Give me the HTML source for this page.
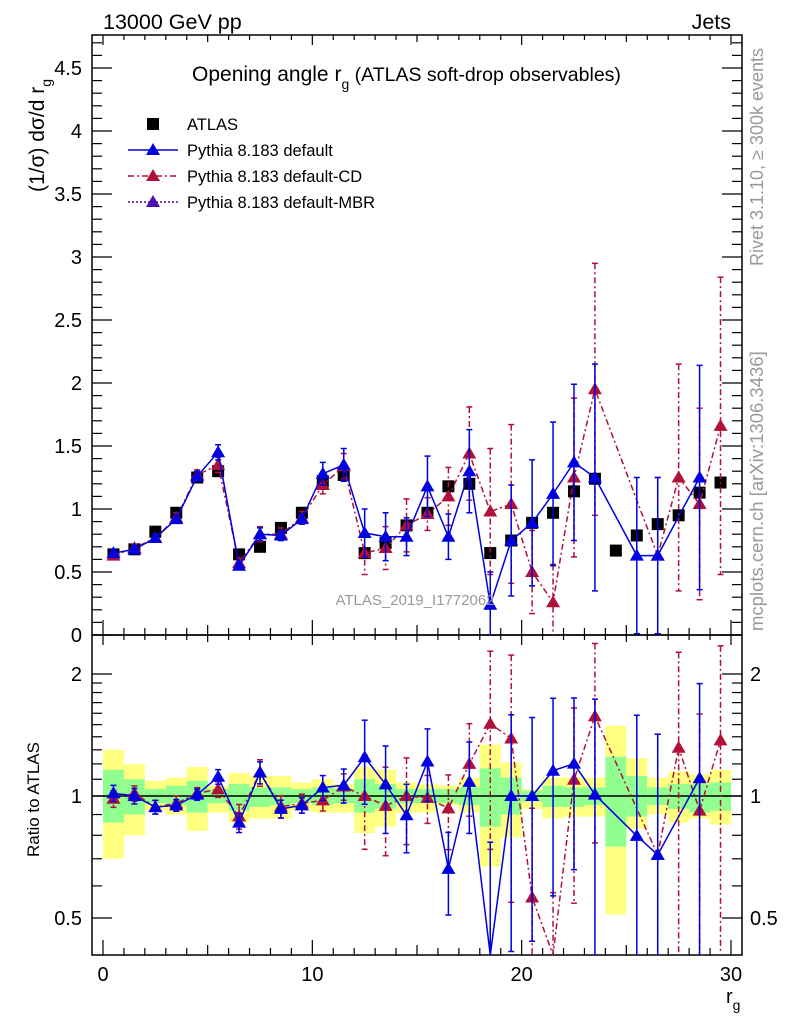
<!DOCTYPE html>
<html><head><meta charset="utf-8"><style>
html,body{margin:0;padding:0;background:#fff;}
svg{display:block;font-family:"Liberation Sans",sans-serif;}
</style></head><body>
<svg id="chart" width="786" height="1024" viewBox="0 0 786 1024">
<g id="bands"></g>
<g id="frame">
<rect x="92" y="35" width="650" height="600" fill="none" stroke="#000" stroke-width="1.5"/>
<rect x="92" y="635" width="650" height="320" fill="none" stroke="#000" stroke-width="1.5"/>
</g>
<g id="ticks"></g>
<g id="series"></g>
<text x="103" y="29" font-size="21.5">13000 GeV pp</text>
<text x="731" y="29" font-size="21.5" text-anchor="end">Jets</text>
<text transform="translate(44,192) rotate(-90)" font-size="21">(1/σ) dσ/d r<tspan font-size="14" dy="7">g</tspan></text>
<text transform="translate(39,857) rotate(-90)" font-size="17">Ratio to ATLAS</text>
<text x="192" y="81" font-size="21">Opening angle r<tspan font-size="14" dy="8">g</tspan><tspan dy="-8" font-size="19.5"> (ATLAS soft-drop observables)</tspan></text>
<text x="415" y="605" font-size="15" fill="#999" text-anchor="middle">ATLAS_2019_I1772062</text>
<text transform="translate(763,266) rotate(-90)" font-size="18" fill="#999">Rivet 3.1.10, ≥ 300k events</text>
<text transform="translate(763,631) rotate(-90)" font-size="18.5" fill="#999">mcplots.cern.ch [arXiv:1306.3436]</text>
<text x="726" y="1003" font-size="20">r<tspan font-size="14" dy="7">g</tspan></text>
<g id="legend">
<rect x="147" y="118" width="12" height="12" fill="#000"/>
<text x="187" y="130" font-size="16.5">ATLAS</text>
<line x1="128" y1="150" x2="178" y2="150" stroke="#0000e0" stroke-width="1.5"/>
<polygon points="153,143 160,155 146,155" fill="#0000e0"/>
<text x="187" y="156" font-size="16.5">Pythia 8.183 default</text>
<line x1="128" y1="176" x2="178" y2="176" stroke="#b0103a" stroke-width="1.5" stroke-dasharray="6,3,2,3"/>
<polygon points="153,169 160,181 146,181" fill="#b0103a"/>
<text x="187" y="182" font-size="16.5">Pythia 8.183 default-CD</text>
<line x1="128" y1="202" x2="178" y2="202" stroke="#4a10b0" stroke-width="1.5" stroke-dasharray="2,2"/>
<polygon points="153,195 160,207 146,207" fill="#4a10b0"/>
<text x="187" y="208" font-size="16.5">Pythia 8.183 default-MBR</text>
</g>
</svg>
<script>
const bins = [0.5,1.5,2.5,3.5,4.5,5.5,6.5,7.5,8.5,9.5,10.5,11.5,12.5,13.5,14.5,15.5,16.5,17.5,18.5,19.5,20.5,21.5,22.5,23.5,24.5,25.5,26.5,27.5,28.5,29.5];
const atlasVals = [0.64,0.68,0.82,0.97,1.25,1.30,0.64,0.70,0.85,0.97,1.22,1.27,0.65,0.73,0.87,0.97,1.18,1.20,0.65,0.75,0.89,0.97,1.14,1.24,0.67,0.79,0.88,0.95,1.13,1.21];
const defVals = [0.65,0.68,0.77,0.92,1.26,1.45,0.55,0.80,0.79,0.92,1.28,1.35,0.81,0.78,0.78,1.18,0.78,1.30,0.24,0.75,0.89,1.12,1.37,1.25,null,0.63,0.63,null,1.25,null];
const defErr = [0.03,0.03,0.03,0.03,0.04,0.06,0.03,0.05,0.04,0.04,0.09,0.13,0.19,0.19,0.15,0.24,0.18,0.33,0.26,0.44,0.5,0.57,0.62,0.9,0,0.62,0.62,0,0.89,0];
const cdVals = [0.63,0.69,0.77,0.93,1.27,1.35,0.57,0.80,0.80,0.93,1.19,1.34,0.65,0.69,0.87,0.96,1.10,1.44,0.98,1.04,0.50,0.26,1.25,1.95,null,null,0.63,1.25,1.04,1.66];
const cdErr = [0.03,0.03,0.03,0.04,0.04,0.06,0.04,0.06,0.05,0.05,0.07,0.1,0.17,0.17,0.21,0.13,0.23,0.37,0.5,0.63,0.33,0.3,0.63,1.0,0,0,0.62,0.9,0.76,1.18];
const statUp = [1.16,1.10,1.04,1.06,1.09,1.04,1.07,1.05,1.05,1.04,1.05,1.04,1.10,1.07,1.04,1.04,1.04,1.05,1.17,1.11,1.03,1.06,1.05,1.05,1.25,1.12,1.05,1.07,1.07,1.08];
const statDn = [0.86,0.90,0.96,0.95,0.91,0.96,0.92,0.94,0.95,0.96,0.95,0.96,0.91,0.93,0.96,0.96,0.96,0.95,0.84,0.90,0.97,0.94,0.94,0.95,0.75,0.89,0.95,0.93,0.91,0.92];
const totUp = [1.30,1.20,1.09,1.11,1.18,1.06,1.14,1.12,1.12,1.08,1.10,1.07,1.18,1.16,1.08,1.07,1.06,1.11,1.34,1.21,1.04,1.11,1.11,1.11,1.49,1.24,1.11,1.15,1.13,1.16];
const totDn = [0.70,0.80,0.92,0.90,0.82,0.91,0.86,0.88,0.88,0.92,0.91,0.91,0.81,0.84,0.91,0.91,0.95,0.91,0.67,0.79,0.93,0.88,0.89,0.89,0.51,0.83,0.90,0.86,0.88,0.85];
const mainTicks = ["0","0.5","1","1.5","2","2.5","3","3.5","4","4.5"];
const ratioTicks = ["0.5","1","2"];
const xTicks = ["0","10","20","30"];

const NS="http://www.w3.org/2000/svg";
const X0=103, XS=20.933;
const xs=v=>X0+v*XS;
const ym=v=>635-v*126;
const R1=796, RS=122;
const yr=v=>R1-Math.log2(v)*RS;
const RTOP=635, RBOT=955;
function mk(tag,attrs,parent){const e=document.createElementNS(NS,tag);for(const k in attrs)e.setAttribute(k,attrs[k]);parent.appendChild(e);return e;}
const gB=document.getElementById('bands'),gT=document.getElementById('ticks'),gS=document.getElementById('series');
const clampR=y=>Math.max(RTOP,Math.min(RBOT,y));

bins.forEach((b,i)=>{
  let r=mk('rect',{x:xs(b-0.5),y:clampR(yr(totUp[i])),width:XS,height:clampR(yr(totDn[i]))-clampR(yr(totUp[i])),fill:'#ffff80'},gB);
  
  
  let g=mk('rect',{x:xs(b-0.5),y:yr(statUp[i]),width:XS,height:yr(statDn[i])-yr(statUp[i]),fill:'#90ff90'},gB);
  
  
});
let ref=mk('line',{x1:92,x2:742,y1:yr(1),y2:yr(1),stroke:'#000','stroke-width':1.5},gB);



for(let v=0;v<=30;v++){
  const big=v%10===0, mid=v%5===0;
  const L=big?15:(mid?10:7);
  [[635,635-L],[955,955-L]].forEach(([a,b])=>{mk('line',{x1:xs(v),x2:xs(v),y1:a,y2:b,stroke:'#000','stroke-width':1.2},gT);});
  const Lt=big?10:(mid?7:5);
  mk('line',{x1:xs(v),x2:xs(v),y1:35,y2:35+Lt,stroke:'#000','stroke-width':1.2},gT);
  mk('line',{x1:xs(v),x2:xs(v),y1:635,y2:635+Lt,stroke:'#000','stroke-width':1.2},gT);
}
xTicks.forEach(t=>{
  const e=mk('text',{x:xs(+t),y:981,'font-size':20,'text-anchor':'middle'},gT);e.textContent=t;
  
  
});
for(let k=0;k<=47;k++){
  const v=k/10, big=k%5===0, L=big?20:10;
  mk('line',{x1:92,x2:92+L,y1:ym(v),y2:ym(v),stroke:'#000','stroke-width':1.2},gT);
  mk('line',{x1:742,x2:742-L,y1:ym(v),y2:ym(v),stroke:'#000','stroke-width':1.2},gT);
}
mainTicks.forEach(t=>{
  const e=mk('text',{x:82,y:ym(+t)+7,'font-size':20,'text-anchor':'end'},gT);e.textContent=t;
  
  
});
const rminor=[0.5,0.6,0.7,0.8,0.9,1,1.1,1.2,1.3,1.4,1.5,1.6,1.7,1.8,1.9,2];
rminor.forEach(v=>{
  const big=(v===0.5||v===1||v===2), L=big?20:10;
  mk('line',{x1:92,x2:92+L,y1:yr(v),y2:yr(v),stroke:'#000','stroke-width':1.2},gT);
  mk('line',{x1:742,x2:742-L,y1:yr(v),y2:yr(v),stroke:'#000','stroke-width':1.2},gT);
});
ratioTicks.forEach(t=>{
  const e=mk('text',{x:82,y:yr(+t)+7,'font-size':20,'text-anchor':'end'},gT);e.textContent=t;
  
  
  const f=mk('text',{x:750,y:yr(+t)+7,'font-size':20},gT);f.textContent=t;
  
  
});

function tri(x,y,c,parent,name){
  const p=mk('polygon',{points:`${x},${y-7} ${x+7},${y+5} ${x-7},${y+5}`,fill:c},parent);
  
  
}
function drawSeries(vals,errs,color,dash,nm){
  const clipTop=(y,t,b)=>Math.max(t,Math.min(b,y));
  let pts=[],rpts=[];
  bins.forEach((b,i)=>{
    if(vals[i]==null)return;
    pts.push(`${xs(b)},${ym(vals[i])}`);
    rpts.push(`${xs(b)},${clampR(yr(vals[i]/atlasVals[i]))}`);
  });
  const l=mk('polyline',{points:pts.join(' '),fill:'none',stroke:color,'stroke-width':1.5,'stroke-dasharray':dash},gS);
  
  
  const rl=mk('polyline',{points:rpts.join(' '),fill:'none',stroke:color,'stroke-width':1.5,'stroke-dasharray':dash},gS);
  
  
  bins.forEach((b,i)=>{
    if(vals[i]==null)return;
    const x=xs(b),v=vals[i],e=errs[i];
    const y1=clipTop(ym(v+e),35,635),y2=clipTop(ym(Math.max(v-e,0)),35,635);
    const eb=mk('line',{x1:x,x2:x,y1:y1,y2:y2,stroke:color,'stroke-width':1.5,'stroke-dasharray':dash},gS);
    
    
    [y1,y2].forEach(yy=>{if(yy>35&&yy<635)mk('line',{x1:x-3,x2:x+3,y1:yy,y2:yy,stroke:color,'stroke-width':1.5},gS);});
    if(ym(v)>35&&ym(v)<=635)tri(x,ym(v),color,gS,nm+'-point');
    const r=v/atlasVals[i], re=e/atlasVals[i];
    const ry1=clampR(yr(r+re)), ry2=r-re>0?clampR(yr(r-re)):RBOT;
    const reb=mk('line',{x1:x,x2:x,y1:ry1,y2:ry2,stroke:color,'stroke-width':1.5,'stroke-dasharray':dash},gS);
    
    
    [ry1,ry2].forEach(yy=>{if(yy>RTOP&&yy<RBOT)mk('line',{x1:x-3,x2:x+3,y1:yy,y2:yy,stroke:color,'stroke-width':1.5},gS);});
    const ry=yr(r);
    if(ry>RTOP&&ry<RBOT)tri(x,ry,color,gS,nm+'-ratio-point');
  });
}
bins.forEach((b,i)=>{
  const s=mk('rect',{x:xs(b)-6,y:ym(atlasVals[i])-6,width:12,height:12,fill:'#000'},gS);
  
  
});
drawSeries(cdVals,cdErr,'#b0103a','6,3,2,3','pythia-cd');
drawSeries(defVals,defErr,'#0000e0','','pythia-default');
</script>
</body></html>
